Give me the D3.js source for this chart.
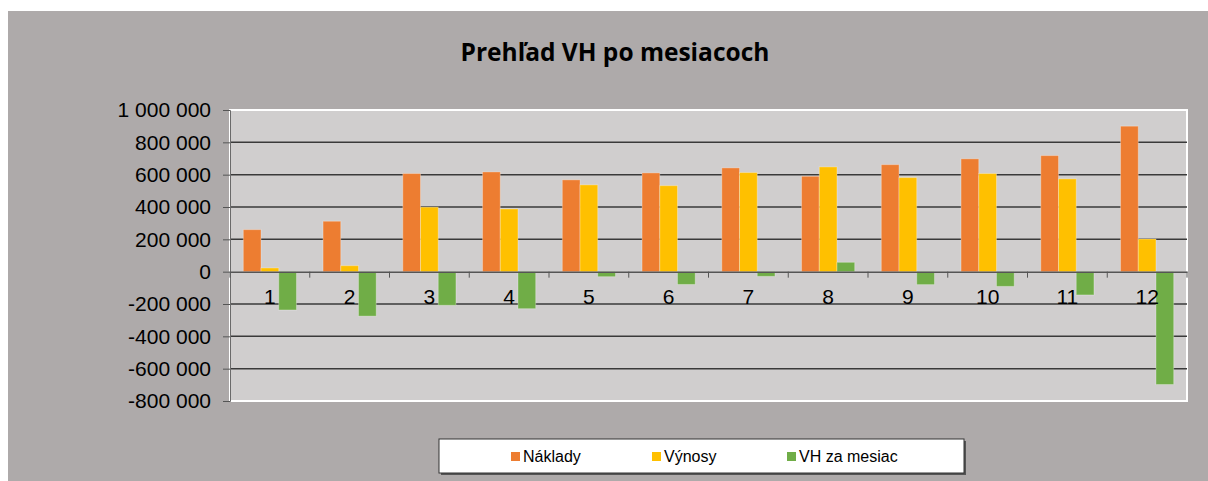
<!DOCTYPE html>
<html>
<head>
<meta charset="utf-8">
<script src="https://cdn.jsdelivr.net/npm/d3@7"></script>
<style>
  body { margin: 0; background: #fff; }
  text { font-family: "Liberation Sans", Arial, sans-serif; fill: #000; }
</style>
</head>
<body>
<div class="chart"></div>
<script>
var svgWidth = 1208;
var svgHeight = 481;

// data
var months = ["1", "2", "3", "4", "5", "6", "7", "8", "9", "10", "11", "12"];
var naklady = [260000, 312000, 607000, 617000, 568000, 611000, 642000, 590000, 662000, 698000, 718000, 900000];
var vynosy = [23000, 37000, 399000, 388000, 537000, 532000, 613000, 648000, 582000, 607000, 574000, 202000];
var vhMesiac = [-237000, -275000, -208000, -229000, -31000, -79000, -29000, 58000, -80000, -91000, -144000, -698000];
var seriesNames = ["Náklady", "Výnosy", "VH za mesiac"];
var seriesColors = ["#ED7D31", "#FFC000", "#70AD47"];
var yTicks = [-800000, -600000, -400000, -200000, 0, 200000, 400000, 600000, 800000, 1000000];

var plot = { left: 230, right: 1187, top: 110, bottom: 401 };

var svg = d3.select(".chart")
  .append("svg")
  .attr("width", svgWidth)
  .attr("height", svgHeight);

// outer chart area
svg.append("rect")
  .attr("x", 8)
  .attr("y", 11)
  .attr("width", svgWidth - 8)
  .attr("height", svgHeight - 11)
  .attr("fill", "#AEAAAA");

// plot area
svg.append("rect")
  .attr("x", plot.left)
  .attr("y", plot.top)
  .attr("width", plot.right - plot.left)
  .attr("height", plot.bottom - plot.top)
  .attr("fill", "#D0CECE")
  .attr("stroke", "#fff")
  .attr("stroke-width", 2);

var x = d3.scaleBand()
  .domain(months)
  .range([plot.left, plot.right]);

var y = d3.scaleLinear()
  .domain([-800000, 1000000])
  .range([plot.bottom, plot.top]);

// gridlines (top and bottom are the white border)
svg.append("g")
  .selectAll("line")
  .data(yTicks.filter(d => d !== 0 && d !== -800000 && d !== 1000000))
  .enter()
  .append("line")
  .attr("x1", plot.left)
  .attr("x2", plot.right)
  .attr("y1", d => y(d))
  .attr("y2", d => y(d))
  .attr("stroke", "#3a3a3a")
  .attr("stroke-width", 1.5);

// left axis
var fmt = d3.format(",");
var leftAxis = d3.axisLeft(y)
  .tickValues(yTicks)
  .tickSize(7)
  .tickPadding(12)
  .tickFormat(d => fmt(d).replace(/,/g, " ").replace("−", "-"));

var yAxis = svg.append("g")
  .attr("transform", `translate(${plot.left}, 0)`)
  .call(leftAxis);
yAxis.select(".domain").attr("stroke", "#6a6a6a");
yAxis.selectAll(".tick line").attr("stroke", "#555");
yAxis.selectAll("text")
  .style("font-size", "21px")
  .attr("fill", "#000");

// bars
var series = [naklady, vynosy, vhMesiac];
var bw = x.step() / 4.5;

series.forEach(function(vals, i) {
  svg.append("g")
    .selectAll("rect")
    .data(vals)
    .enter()
    .append("rect")
    .attr("x", (d, j) => x(months[j]) + bw * 0.75 + i * bw)
    .attr("y", d => y(Math.max(0, d)))
    .attr("width", bw)
    .attr("height", d => Math.abs(y(d) - y(0)))
    .attr("fill", seriesColors[i])
    .attr("stroke", "rgba(255,255,255,0.3)")
    .attr("stroke-width", 1);
});

// category axis at zero
var bottomAxis = d3.axisBottom(x)
  .tickSize(0)
  .tickPadding(17);

var xAxis = svg.append("g")
  .attr("transform", `translate(0, ${y(0)})`)
  .call(bottomAxis);
xAxis.select(".domain").attr("stroke", "#555").attr("stroke-width", 1.5);
xAxis.selectAll("text")
  .style("font-size", "21px")
  .attr("fill", "#000");

xAxis.selectAll(".boundary")
  .data(d3.range(months.length + 1))
  .enter()
  .append("line")
  .attr("class", "boundary")
  .attr("x1", d => plot.left + d * x.step())
  .attr("x2", d => plot.left + d * x.step())
  .attr("y1", 0)
  .attr("y2", 6)
  .attr("stroke", "#555");

// title
svg.append("text")
  .attr("x", 615)
  .attr("y", 61)
  .attr("text-anchor", "middle")
  .style("font-family", "'Open Sans', sans-serif")
  .style("font-weight", "bold")
  .style("font-size", "24.5px")
  .text("Prehľad VH po mesiacoch");

// legend
var legend = svg.append("g");
legend.append("rect")
  .attr("x", 441)
  .attr("y", 441)
  .attr("width", 525)
  .attr("height", 34)
  .attr("fill", "#555");
legend.append("rect")
  .attr("x", 439)
  .attr("y", 439)
  .attr("width", 525)
  .attr("height", 34)
  .attr("fill", "#fff")
  .attr("stroke", "#333")
  .attr("stroke-width", 1);

var legendX = [511, 652, 787];
seriesNames.forEach(function(name, i) {
  legend.append("rect")
    .attr("x", legendX[i])
    .attr("y", 452)
    .attr("width", 9)
    .attr("height", 9)
    .attr("fill", seriesColors[i]);
  legend.append("text")
    .attr("x", legendX[i] + 12)
    .attr("y", 462)
    .style("font-size", "16px")
    .text(name);
});
</script>
</body>
</html>
